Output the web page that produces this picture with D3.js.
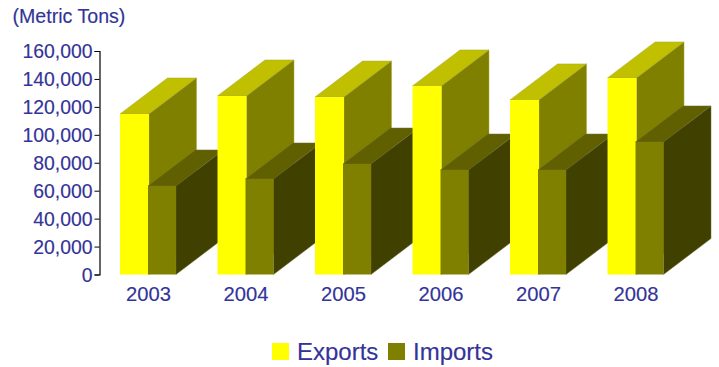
<!DOCTYPE html>
<html>
<head>
<meta charset="utf-8">
<script src="https://cdn.jsdelivr.net/npm/d3@7/dist/d3.min.js"></script>
<style>
html, body { margin: 0; padding: 0; background: #fff; }
svg { display: block; }
text { font-family: "Liberation Sans", Arial, sans-serif; fill: #333399; stroke: #333399; stroke-width: 0.15px; }
</style>
</head>
<body>
<svg id="chart" width="719" height="367"></svg>
<script>
// Trade volumes in metric tons
const years = ["2003", "2004", "2005", "2006", "2007", "2008"];
const exportsTons = [114900, 127800, 127000, 135000, 125000, 140700];
const importsTons = [63400, 68400, 79100, 74800, 74800, 94900];
const seriesNames = ["Exports", "Imports"];
const yTicks = [0, 20000, 40000, 60000, 80000, 100000, 120000, 140000, 160000];
const unitLabel = "(Metric Tons)";

// Face shades per series: front, top, side, plus the thin highlight on the extruded edges
const shades = {
  Exports: { front: "#ffff00", top: "#c0c000", side: "#808000", edge: "#a8a830" },
  Imports: { front: "#808000", top: "#606000", side: "#404000", edge: "#70703a" }
};

// Oblique projection offset for the extruded depth
const depthX = 47.5, depthY = -36;

const svg = d3.select("#chart");
const y = d3.scaleLinear().domain([0, 160000]).range([274.5, 51]);
const x0 = d3.scaleBand().domain(years).range([120, 663.5]).paddingInner(0.426).paddingOuter(0);
const x1 = d3.scaleBand().domain(seriesNames).range([0, x0.bandwidth()]);

// Value axis
const axis = svg.append("g")
  .attr("transform", "translate(99.5,0)")
  .call(d3.axisLeft(y).tickValues(yTicks).tickFormat(d3.format(",")).tickSize(5).tickPadding(2));
axis.selectAll("path, line").attr("stroke", "#000");
axis.select("path").attr("stroke-width", 1.2);
axis.selectAll("text").attr("font-size", 19.4).attr("dy", "0.36em");

// Draw each year's bars left to right so nearer faces overlap correctly
const tops = { Exports: exportsTons, Imports: importsTons };
years.forEach((year, i) => {
  const g = svg.append("g");
  seriesNames.forEach(name => {
    const c = shades[name];
    const x = x0(year) + x1(name);
    const w = x1.bandwidth() + (name === "Exports" ? 1 : 0);
    const yTop = y(tops[name][i]), yBase = y(0);
    const quad = pts => g.append("polygon").attr("points", pts.map(p => p.join(",")).join(" "));
    quad([[x, yTop], [x + depthX, yTop + depthY], [x + w + depthX, yTop + depthY], [x + w, yTop]])
      .attr("fill", c.top).attr("stroke", c.edge).attr("stroke-width", 0.5);
    quad([[x + w, yTop], [x + w + depthX, yTop + depthY], [x + w + depthX, yBase + depthY], [x + w, yBase]])
      .attr("fill", c.side).attr("stroke", c.edge).attr("stroke-width", 0.5);
    g.append("rect").attr("x", x).attr("y", yTop).attr("width", w).attr("height", yBase - yTop)
      .attr("fill", c.front);
  });
  // Year label under the group
  svg.append("text")
    .attr("x", x0(year) + x1.bandwidth() + 0.5)
    .attr("y", 300.5)
    .attr("text-anchor", "middle")
    .attr("font-size", 20.2)
    .text(year);
});

// Unit caption
svg.append("text").attr("x", 12.5).attr("y", 23).attr("font-size", 19.6).text(unitLabel);

// Legend
const legendX = d3.scaleOrdinal().domain(seriesNames).range([272, 388]);
seriesNames.forEach(name => {
  const lx = legendX(name);
  svg.append("rect").attr("x", lx).attr("y", 343).attr("width", 17).attr("height", 17)
    .attr("fill", shades[name].front);
  svg.append("text").attr("x", lx + 25).attr("y", 360).attr("font-size", 24).text(name);
});
</script>
</body>
</html>
